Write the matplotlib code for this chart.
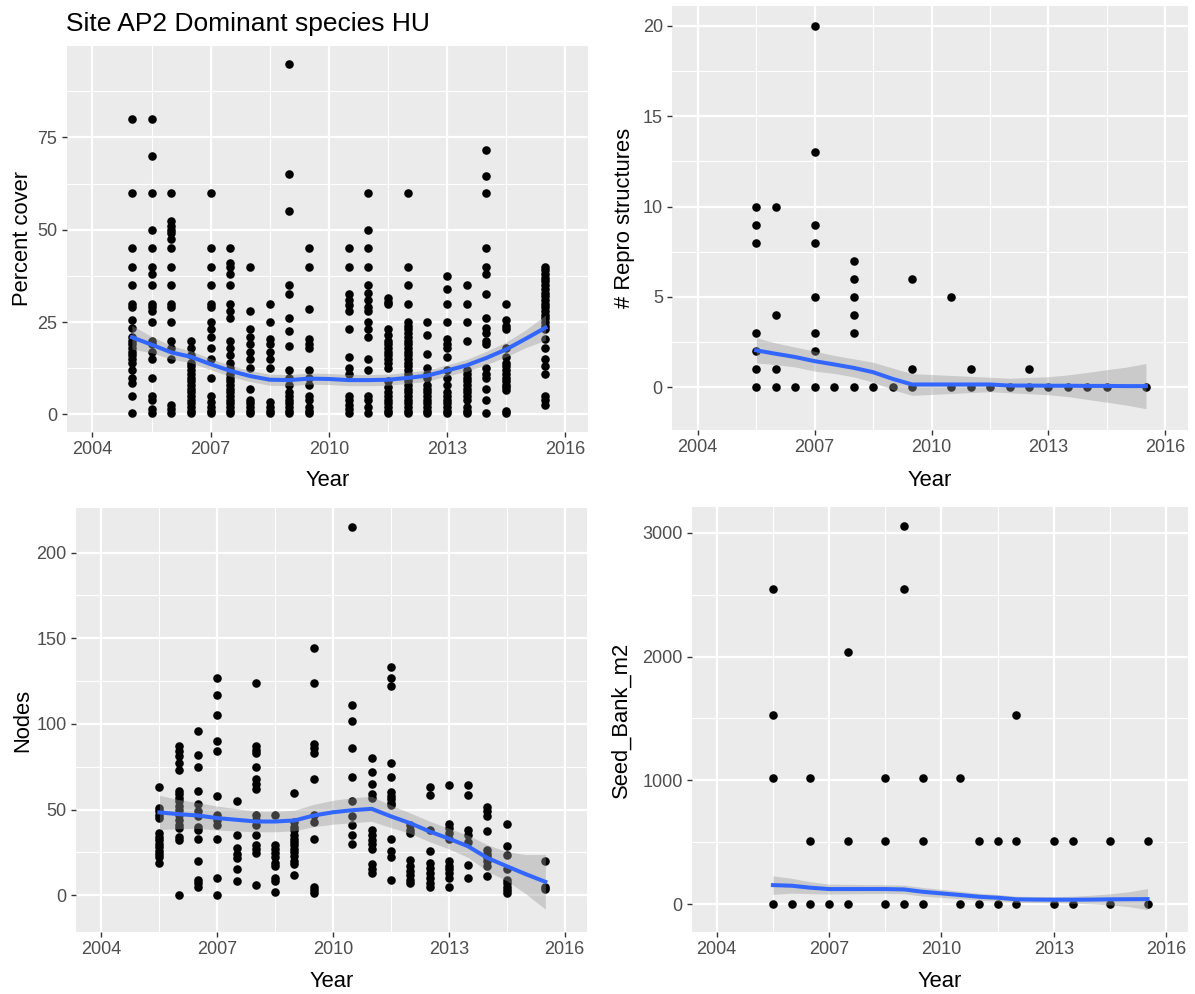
import matplotlib.pyplot as plt
import matplotlib.transforms as mtransforms
import numpy as np

plt.rcParams['font.family'] = ['Liberation Sans', 'DejaVu Sans']

# ---- Percent cover (top left) ----
cover_years = [2005, 2005.5, 2006, 2006.5, 2007, 2007.5, 2008, 2008.5, 2009, 2009.5,
               2010.5, 2011, 2011.5, 2012, 2012.5, 2013, 2013.5, 2014, 2014.5, 2015.5]
cover_values = [
    [80, 60, 45, 40, 35, 30, 29, 25.5, 23.5, 21, 20, 19, 18, 17, 16, 15, 14, 12, 10, 8.5, 5, 0.5],
    [80, 70, 60, 50, 45, 40, 38, 35, 30, 29, 28, 25, 20, 19, 17, 15, 10, 5, 4, 1.5, 0.5],
    [60, 52.5, 51, 50, 49, 47.5, 45, 40, 35, 30, 29, 25, 20, 18, 15, 2.5, 1.5, 0.5],
    [20, 18, 16, 14, 13, 12, 11, 10, 9, 8, 7, 6, 5, 4, 3, 2, 1, 0.5],
    [60, 45, 40, 35, 30, 29, 25, 23, 21, 18, 15, 10, 5, 3.5, 2, 1, 0.5],
    [45, 41, 40, 38, 35, 30, 28, 26, 20, 18, 16, 14, 12.5, 11, 10, 9, 8, 7, 6, 5, 4, 3, 2, 1, 0.5],
    [40, 28, 23, 21, 19, 17, 15, 12.5, 7, 4, 3, 2, 1, 0.5],
    [30, 25, 20.5, 19, 17, 15, 12.5, 3.5, 2, 1, 0.5],
    [95, 65, 55, 35, 32.5, 26, 22.5, 18.5, 12, 10, 8, 6, 5, 4, 3, 2, 1, 0.5],
    [45, 40, 28.5, 20.5, 19, 18, 12, 10, 8, 5, 4, 2, 1, 0.5],
    [45, 40, 32.5, 31, 29.5, 28, 23, 15.5, 12.5, 11, 5, 4, 2.5, 1.5, 0.5],
    [60, 50, 45, 40, 35, 33, 31, 29, 28, 25, 23, 21, 15, 12, 5, 4, 2, 0.5],
    [31.5, 30.5, 30, 23, 21.5, 20, 19, 18, 17, 16, 15, 14, 12.5, 9, 7.5, 6, 5, 4, 3, 2, 1, 0.5],
    [60, 40, 35, 30, 25, 24, 23, 22, 21, 20, 19, 18, 17, 16, 15, 14, 13, 12, 11, 10, 9, 8, 7, 6, 5, 4, 3, 2, 1, 0.5],
    [25, 21.5, 16.5, 12.5, 11, 10, 8, 7, 6, 5, 4, 3, 2, 1, 0.5],
    [37.5, 34, 30, 25, 20.5, 19, 18, 15.5, 12, 10, 8, 6, 5, 4, 3, 2, 1, 0.5],
    [35, 30, 25, 20, 12, 11, 10, 9, 8, 7, 6, 5, 4, 2, 1, 0.5],
    [71.5, 64.5, 60, 45, 40, 38, 32.5, 26, 23.5, 22, 20, 19, 12.5, 11, 10, 7, 4, 0.5],
    [30, 25.5, 24, 23, 18, 15.5, 14, 13, 12, 11, 10, 9, 8, 7.5, 6.5, 1, 0.5],
    [40, 39, 38, 37, 36, 35, 34, 33, 32, 31, 30, 29, 28, 27, 26, 25, 24, 23, 20.5, 18, 15, 13, 11, 5, 4, 2.5],
]
cover_fit_x = [2005, 2005.5, 2006, 2006.5, 2007, 2007.5, 2008, 2008.5, 2009, 2009.5, 2010,
               2010.5, 2011, 2011.5, 2012, 2012.5, 2013, 2013.5, 2014, 2014.5, 2015, 2015.5]
cover_fit = [20.9, 18.9, 16.8, 15.6, 13.6, 11.8, 10.4, 9.4, 9.3, 9.7, 9.6,
             9.3, 9.3, 9.4, 9.9, 10.5, 11.9, 13.3, 15.3, 17.6, 20.5, 23.5]
cover_se = [3.2, 2.2, 1.8, 1.6, 1.5, 1.5, 1.5, 1.5, 1.5, 1.5, 1.5,
            1.5, 1.5, 1.5, 1.5, 1.5, 1.5, 1.6, 1.8, 2.0, 2.4, 3.4]

# ---- Repro structures (top right) ----
repro_years = [2005.5, 2006, 2006.5, 2007, 2007.5, 2008, 2008.5, 2009, 2009.5, 2010.5,
               2011, 2011.5, 2012, 2012.5, 2013, 2013.5, 2014, 2014.5, 2015.5]
repro_values = [
    [0, 1, 2, 3, 8, 9, 10], [0, 1, 4, 10], [0], [0, 2, 3, 5, 8, 9, 13, 20], [0],
    [0, 3, 4, 5, 6, 7], [0], [0], [0, 1, 6], [0, 5], [0, 1], [0], [0], [0, 1],
    [0], [0], [0], [0], [0],
]
fit_x = [2005.5, 2006, 2006.5, 2007, 2007.5, 2008, 2008.5, 2009, 2009.5, 2010, 2010.5,
         2011, 2011.5, 2012, 2012.5, 2013, 2013.5, 2014, 2014.5, 2015, 2015.5]
repro_fit = [2.04, 1.85, 1.67, 1.44, 1.26, 1.07, 0.83, 0.46, 0.15, 0.15, 0.15,
             0.15, 0.15, 0.09, 0.09, 0.08, 0.08, 0.07, 0.07, 0.06, 0.06]
repro_se = [0.7, 0.6, 0.55, 0.55, 0.5, 0.5, 0.55, 0.6, 0.6, 0.55, 0.5,
            0.45, 0.4, 0.4, 0.45, 0.5, 0.6, 0.75, 0.9, 1.05, 1.25]

# ---- Nodes (bottom left) ----
nodes_years = repro_years
nodes_values = [
    [63, 51, 49, 47, 45, 36, 34, 32, 30, 28, 26, 24, 22, 19],
    [87, 84, 81, 77, 73, 61, 59, 57, 55, 52, 50, 47, 44, 41, 39, 34, 32, 0],
    [96, 82, 75, 61, 53, 49, 46, 40, 38, 33, 20, 9, 7, 5],
    [127, 117, 105, 90, 84, 58, 47, 44, 41, 33, 10, 0],
    [55, 35, 27.5, 24, 21.5, 15, 8.5],
    [124, 87, 85, 83, 75, 68, 65, 62, 47, 44, 41, 35, 29.5, 27, 24.5, 6],
    [47, 29.5, 27, 24.5, 22, 19, 17, 10, 8, 2],
    [59.5, 43, 40, 38, 35, 33, 31, 29, 27, 25, 23, 20, 18, 12],
    [144, 124, 88, 86, 83, 68, 47, 43, 33, 5, 3, 1.5],
    [215, 111, 101.5, 86, 69, 55, 46, 41, 35, 30],
    [80, 72, 65, 59, 57, 38, 35, 32, 30, 27, 18, 15, 13],
    [133, 127, 122, 77, 69, 60.5, 58, 56, 54, 52.5, 32.5, 25.5, 22, 9],
    [41, 38, 36, 20.5, 17, 14, 12, 9, 7],
    [63, 58.5, 38, 26, 19, 16, 13, 10, 7, 5],
    [64.5, 41.5, 39, 36, 33, 20, 17, 15, 13, 10, 5],
    [64.5, 58.5, 38, 35, 31, 17.5, 10],
    [51.5, 49, 46, 37.5, 26.5, 24, 22, 20, 17, 11],
    [41.5, 28.5, 23.5, 15, 9, 7, 5, 3, 1.5],
    [20, 5, 3.5],
]
nodes_fit = [48.3, 47.3, 46.5, 45.0, 44.0, 43.0, 43.0, 43.6, 46.5, 48.4, 49.6,
             50.4, 46.0, 42.0, 37.2, 33.0, 28.5, 21.7, 16.9, 12.2, 7.8]
nodes_se = [10, 8.5, 7.5, 7, 6.5, 6, 6, 6, 6.5, 7, 7.3,
            7.3, 6.5, 6, 6, 6, 6.5, 7.7, 8.5, 11.5, 16]

# ---- Seed bank (bottom right) ----
seed_years = [2005.5, 2006, 2006.5, 2007, 2007.5, 2008.5, 2009, 2009.5, 2010.5,
              2011, 2011.5, 2012, 2013, 2013.5, 2014.5, 2015.5]
seed_values = [
    [0, 1019, 1528, 2546], [0], [0, 509, 1019], [0], [0, 509, 2037], [0, 509, 1019],
    [0, 2546, 3056], [0, 509, 1019], [0, 1019], [0, 509], [0, 509], [0, 509, 1528],
    [0, 509], [0, 509], [0, 509], [0, 509],
]
seed_fit = [153, 148, 132, 121, 121, 121, 121, 118, 99, 86, 73,
            59, 51, 38, 36, 35, 35, 36, 38, 39, 40]
seed_se = [75, 60, 48, 40, 38, 36, 35, 35, 35, 33, 30,
           28, 26, 25, 25, 25, 28, 35, 45, 60, 85]

W, H = 1195, 994
fig = plt.figure(figsize=(W / 100, H / 100), dpi=100)


def panel(left, top, right, bottom):
    return fig.add_axes([left / W, 1 - bottom / H, (right - left) / W, (bottom - top) / H])


def draw(ax, years, values, fx, fy, fse, ylim, yticks, yminor, ylabel, ylab_px, xlab_px):
    xs = np.concatenate([[yr] * len(v) for yr, v in zip(years, values)])
    ys = np.concatenate(values)
    ax.scatter(xs, ys, s=38, color='black', linewidths=0, zorder=2)
    fy, fse = np.array(fy), np.array(fse)
    ax.fill_between(fx, fy - fse, fy + fse, color='#999999', alpha=0.4, linewidth=0, zorder=3)
    ax.plot(fx, fy, color='#3366FF', lw=2.9, zorder=4)

    ax.set_facecolor('#EBEBEB')
    for s in ax.spines.values():
        s.set_visible(False)
    ax.set_xlim(2003.34, 2016.58)
    ax.set_ylim(*ylim)
    ax.set_xticks([2004, 2007, 2010, 2013, 2016])
    ax.set_xticks([2005.5, 2008.5, 2011.5, 2014.5], minor=True)
    ax.set_yticks(yticks)
    ax.set_yticks(yminor, minor=True)
    ax.set_axisbelow(True)
    ax.grid(which='major', color='white', lw=1.6)
    ax.grid(which='minor', color='white', lw=0.8)
    ax.tick_params(which='minor', length=0)
    ax.tick_params(which='major', length=3.6, width=1, color='#333333',
                   labelcolor='#4D4D4D', labelsize=13, pad=3)

    ax.set_xlabel('Year', fontsize=15.8, va='baseline')
    ax.xaxis.set_label_coords(0.5, 1 - xlab_px / H,
                              transform=mtransforms.blended_transform_factory(ax.transAxes, fig.transFigure))
    ax.set_ylabel(ylabel, fontsize=15.8, va='baseline')
    ax.yaxis.set_label_coords(ylab_px / W, 0.5,
                              transform=mtransforms.blended_transform_factory(fig.transFigure, ax.transAxes))


ax1 = panel(66.5, 46, 588, 432)
draw(ax1, cover_years, cover_values, cover_fit_x, cover_fit, cover_se,
     (-4.75, 99.75), [0, 25, 50, 75], [12.5, 37.5, 62.5, 87.5], 'Percent cover', 28.5, 486)
ax1.set_title('Site AP2 Dominant species HU', loc='left', fontsize=19, pad=11)

ax2 = panel(672, 6, 1188, 430)
draw(ax2, repro_years, repro_values, fit_x, repro_fit, repro_se,
     (-2.37, 21.1), [0, 5, 10, 15, 20], [2.5, 7.5, 12.5, 17.5], '# Repro structures', 630, 486)

ax3 = panel(76, 508, 587, 932)
draw(ax3, nodes_years, nodes_values, fit_x, nodes_fit, nodes_se,
     (-21.5, 226), [0, 50, 100, 150, 200], [25, 75, 125, 175], 'Nodes', 28.5, 987)

ax4 = panel(692, 507, 1188, 932)
draw(ax4, seed_years, seed_values, fit_x, seed_fit, seed_se,
     (-226, 3209), [0, 1000, 2000, 3000], [500, 1500, 2500], 'Seed_Bank_m2', 627, 987)

fig.savefig('out.png', dpi=100, facecolor='white')
